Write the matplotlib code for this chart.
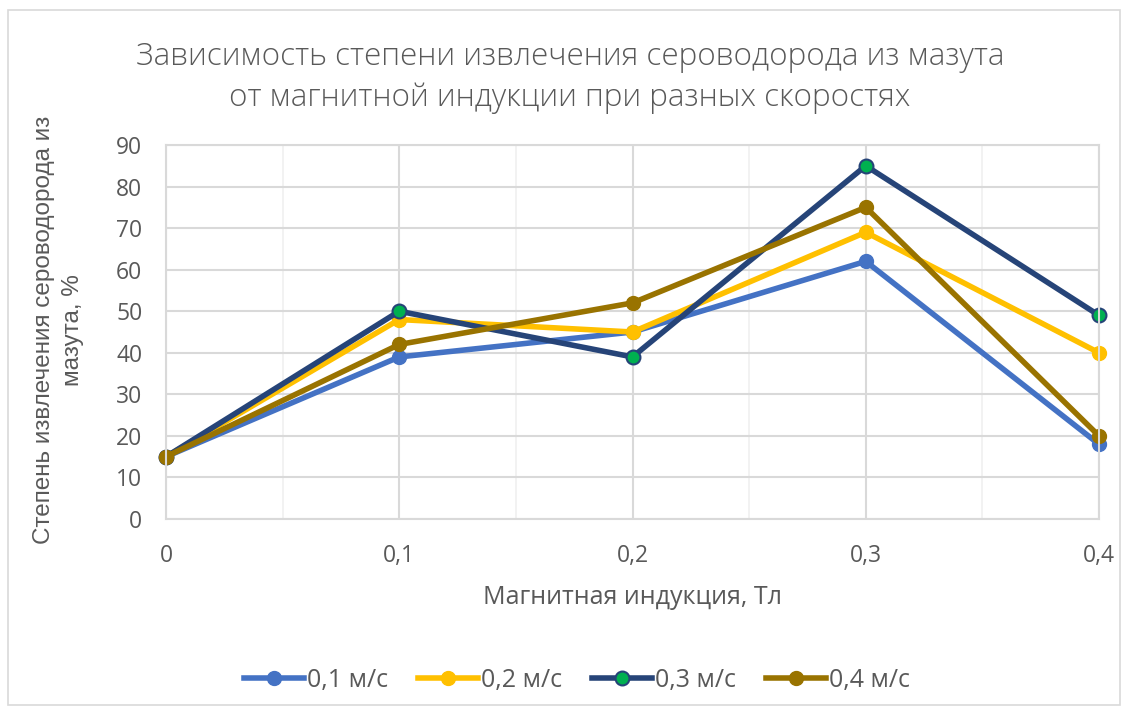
import numpy as np
import matplotlib.pyplot as plt
from matplotlib.patches import Rectangle

# Data
induction = [0, 0.1, 0.2, 0.3, 0.4]
v01 = [15, 39, 45, 62, 18]
v02 = [15, 48, 45, 69, 40]
v03 = [15, 50, 39, 85, 49]
v04 = [15, 42, 52, 75, 20]
xticklabels = ['0', '0,1', '0,2', '0,3', '0,4']
labels = ['0,1 м/с', '0,2 м/с', '0,3 м/с', '0,4 м/с']

plt.rcParams['font.family'] = ['Open Sans', 'DejaVu Sans']
grey = '#595959'

fig = plt.figure(figsize=(11.25, 7.16), dpi=100)
ax = fig.add_axes([166/1125, 1-519/716, (1099-166)/1125, (519-145)/716])

# Chart border
fig.patches.append(Rectangle((8/1125, 1-705/716), 1112/1125, 695/716,
                             transform=fig.transFigure, fill=False,
                             edgecolor='#D9D9D9', lw=1.2))

#Series, drawn in Excel order so that 0,4 ends up on top
ax.plot(induction, v01, '-o', color='#4472C4', lw=4, ms=10, label=labels[0], clip_on=False)
ax.plot(induction, v02, '-o', color='#FFC000', lw=4, ms=10, label=labels[1], clip_on=False)
ax.plot(induction, v03, '-o', color='#264478', lw=4, ms=10, mfc='#00B050',
        mec='#264478', mew=1.5, label=labels[2], clip_on=False)
ax.plot(induction, v04, '-o', color='#997300', lw=4, ms=10, label=labels[3], clip_on=False)

ax.set_xlim(0, 0.4)
ax.set_ylim(0, 90)
ax.set_yticks(np.arange(0, 91, 10))
ax.set_xticks(induction)
ax.set_xticklabels(xticklabels)
ax.set_xticks([0.05, 0.15, 0.25, 0.35], minor=True)

ax.grid(True, which='major', color='#D9D9D9', lw=1.5)
ax.grid(True, which='minor', axis='x', color='#F0F0F0', lw=1.2)
ax.set_axisbelow(True)
for s in ax.spines.values():
    s.set_color('#D9D9D9')
    s.set_linewidth(1.5)
ax.tick_params(which='both', length=0, labelsize=16.5, labelcolor=grey)
ax.tick_params(axis='x', pad=18)
ax.tick_params(axis='y', pad=17)

ax.set_xlabel('Магнитная индукция, Тл', fontsize=18, color=grey, va='center')
ax.xaxis.set_label_coords(0.5, (519-597)/374)
ax.set_ylabel('Степень извлечения сероводорода из\nмазута, %', fontsize=17.5,
              color=grey, va='center', linespacing=1.45,
              family=['Liberation Sans', 'DejaVu Sans'])
ax.yaxis.set_label_coords((58.5-166)/933, (519-330)/374)

fig.text(570/1125, 1-77.5/716,
         'Зависимость степени извлечения сероводорода из мазута\nот магнитной индукции при разных скоростях',
         ha='center', va='center', fontsize=22.6, color=grey, linespacing=1.4,
         fontweight='light')

ax.legend(loc='center', bbox_to_anchor=(577/1125, 1-680/716), bbox_transform=fig.transFigure,
          ncol=4, frameon=False, fontsize=18, labelcolor=grey,
          handlelength=2.4, handletextpad=0.12, columnspacing=1.2)

fig.savefig('out.png', dpi=100)
